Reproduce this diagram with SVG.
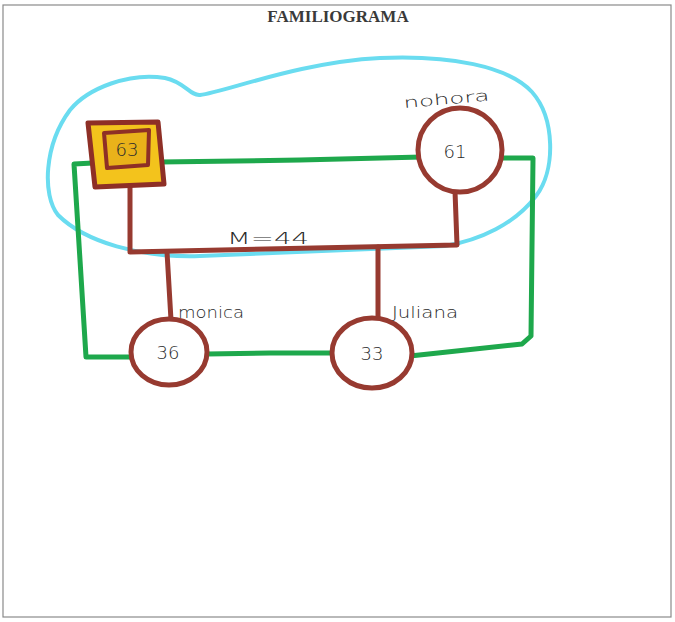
<svg xmlns="http://www.w3.org/2000/svg" width="675" height="622" viewBox="0 0 675 622">
<style>
.frame{fill:#fff;stroke:#8a8a8a;stroke-width:1.2}
.title{font-family:"Liberation Serif",serif;font-weight:bold;font-size:17px;fill:#3a3a3a;text-anchor:middle}
.hand{font-family:"DejaVu Sans","Liberation Sans",sans-serif;fill:#2a2a2a;font-size:15px;font-weight:300}
.age{font-family:"DejaVu Sans","Liberation Sans",sans-serif;fill:#2a2a2a;font-size:18px;text-anchor:middle;font-weight:300}
.brown{fill:none;stroke:#973a30;stroke-width:5;stroke-linecap:round;stroke-linejoin:round}
.green{fill:none;stroke:#1ea84c;stroke-width:5;stroke-linecap:round;stroke-linejoin:round}
.blue{fill:none;stroke:#6adcf0;stroke-width:4;stroke-linecap:round;stroke-linejoin:round}
.circ{fill:#fff;stroke:#973a30;stroke-width:5}
</style>
<rect class="frame" x="3" y="5" width="668" height="612"/>
<text class="title" x="338" y="22">FAMILIOGRAMA</text>

<g id="household">
<path class="blue" d="M58,215 C42,195 44,145 70,110 C88,88 130,72 165,78 C185,82 190,96 200,95 C225,92 300,62 380,58 C450,55 508,66 532,92 C555,118 556,170 536,196 C515,224 480,240 445,246 L200,256 C140,258 85,242 58,215 Z"/>
</g>

<g id="connectors">
<path class="green" d="M160,162 L300,160 L422,157"/>
<path class="green" d="M93,163 L74,164 L80,260 L86,357 L131,357"/>
<path class="green" d="M207,354 L270,353 L333,353"/>
<path class="green" d="M410,356 L522,344 L531,336 L533,158 L503,158"/>
<path class="brown" d="M130,185 L130,252 L457,245 L455,191"/>
<path class="brown" d="M167,252 L171,320"/>
<path class="brown" d="M378,247 L378,318"/>
</g>

<g id="node-63">
<path d="M88,123 L158,122 L164,184 L95,187 Z" fill="#f3c31c" stroke="#8e2f26" stroke-width="5" stroke-linejoin="round"/>
<path d="M104,133 L149,130 L148,165 L107,168 Z" fill="#e9b21a" stroke="#8e2f26" stroke-width="4" stroke-linejoin="round"/>
<text class="age" x="127" y="156" font-size="14">63</text>
</g>

<g id="node-61">
<ellipse class="circ" cx="460" cy="150" rx="42" ry="42"/>
<text class="age" x="455" y="158">61</text>
<text class="hand" x="404" y="108" font-size="17" textLength="86" lengthAdjust="spacingAndGlyphs" transform="rotate(-5 404 108)">nohora</text>
</g>

<g id="node-36">
<ellipse class="circ" cx="169" cy="352" rx="38" ry="33"/>
<text class="age" x="168" y="359">36</text>
<text class="hand" x="178" y="318" font-size="15" textLength="66" lengthAdjust="spacingAndGlyphs">monica</text>
</g>

<g id="node-33">
<ellipse class="circ" cx="372" cy="353" rx="40" ry="35"/>
<text class="age" x="372" y="360">33</text>
<text class="hand" x="392" y="318" font-size="16" textLength="66" lengthAdjust="spacingAndGlyphs">Juliana</text>
</g>

<g id="marriage-label">
<text class="hand" x="227" y="244" font-size="19" textLength="82" lengthAdjust="spacingAndGlyphs">M=44</text>
</g>
</svg>
